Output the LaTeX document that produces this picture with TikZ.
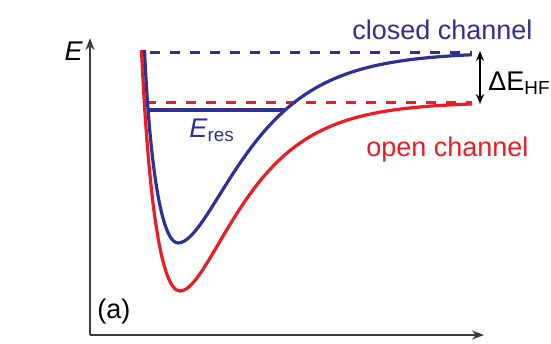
\documentclass[tikz,border=0pt]{standalone}
\usepackage{fontspec}
\setmainfont{Liberation Sans}
\usetikzlibrary{arrows.meta}

\definecolor{closedblue}{RGB}{46,49,146}
\definecolor{openred}{RGB}{237,28,36}
\definecolor{axisgray}{RGB}{60,60,60}

\begin{document}
\begin{tikzpicture}[x=0.5pt, y=-0.5pt, >=Stealth, line join=round,
  font=\fontsize{13.5}{16}\selectfont,
  every node/.style={inner sep=0pt},
  curve/.style={line width=1.6pt},
  level/.style={line width=1.5pt, dash pattern=on 5pt off 5pt},
  axis/.style={axisgray, line width=0.9pt, -{Stealth[length=6pt, width=4.5pt]}}]

  \useasboundingbox (0,0) rectangle (551,343);

  %% ---- axes ----
  \coordinate (origin) at (90,335);
  \coordinate (Etip)   at (90,38);
  \coordinate (Rtip)   at (484,335);
  \draw[axis] (origin) -- (Etip);
  \draw[axis] (origin) -- (Rtip);
  \node[anchor=base east, font=\fontsize{13.5}{16}\selectfont\itshape] (Elabel) at (83,60) {E};
  \node[anchor=north, font=\fontsize{13.5}{16}\selectfont\itshape] (Rlabel) at (470,345) {R};

  %% ---- thresholds (dashed) ----
  \coordinate (closedL) at (150,52.5);
  \coordinate (closedR) at (472,52.5);
  \coordinate (openL)   at (146,102);
  \coordinate (openR)   at (472,102);
  \draw[closedblue, level] (closedL) -- (closedR);
  \draw[openred, level]    (openL) -- (openR);

  %% ---- open channel potential: steep wall + Morse tail ----
  \draw[openred, curve] (141.5,50) .. controls (148,190) and (160,291) .. (180,291)
    -- plot[domain=180:472, samples=90] (\x, {102+189*(1-(1-exp(-0.018*(\x-180)))^2)});

  %% ---- closed channel potential ----
  \draw[closedblue, curve] (144.5,50) .. controls (150,170) and (162,243) .. (178,243)
    -- plot[domain=178:472, samples=90] (\x, {52+191*(1-(1-exp(-0.01679*(\x-178)))^2)});

  %% ---- bound state E_res ----
  \coordinate (resL) at (148.3,110);
  \coordinate (resR) at (285,110);
  \draw[closedblue, curve] (resL) -- (resR);
  \node[closedblue, anchor=base west] (resLabel) at (189,137) {\textit{E}\textsubscript{res}};

  %% ---- hyperfine splitting ----
  \coordinate (hfTop) at (480,51);
  \coordinate (hfBot) at (480,104);
  \draw[<->, line width=0.75pt, >={Stealth[length=5pt, width=4pt]}] (hfTop) -- (hfBot);
  \node[anchor=base west] (hfLabel) at (488,90) {ΔE\textsubscript{HF}};

  %% ---- channel labels ----
  \node[closedblue, anchor=base west] (closedLabel) at (352,39) {closed channel};
  \node[openred, anchor=base west]    (openLabel)   at (366,156) {open channel};
  \node[anchor=base west]             (panelLabel)  at (97,318) {(a)};

\end{tikzpicture}
\end{document}
